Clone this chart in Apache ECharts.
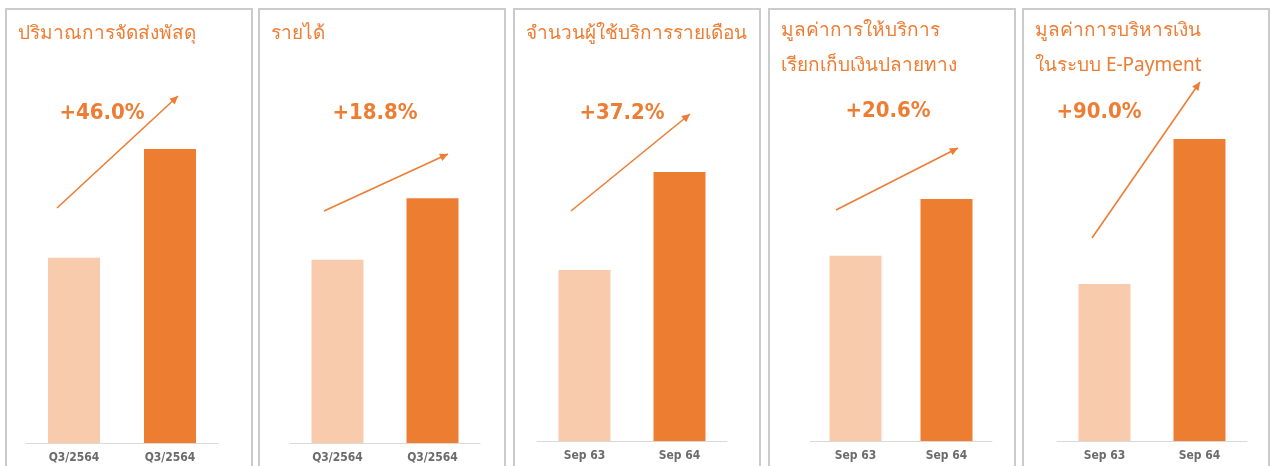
<!DOCTYPE html>
<html><head><meta charset="utf-8">
<script src="https://cdn.jsdelivr.net/npm/echarts@6/dist/echarts.min.js"></script>
<style>html,body{margin:0;padding:0;background:#fff}#c{width:1271px;height:466px}</style>
</head><body><div id="c"></div>
<script>
// Panel data (bar heights, relative scale 0-100)
const titles = ['ปริมาณการจัดส่งพัสดุ', 'รายได้', 'จำนวนผู้ใช้บริการรายเดือน', 'มูลค่าการให้บริการ\nเรียกเก็บเงินปลายทาง', 'มูลค่าการบริหารเงิน\nในระบบ E-Payment'];
const growth = ['+46.0%', '+18.8%', '+37.2%', '+20.6%', '+90.0%'];
const cats1 = ['Q3/2564', 'Q3/2564'];
const cats2 = ['Q3/2564', 'Q3/2564'];
const cats3 = ['Sep 63', 'Sep 64'];
const cats4 = ['Sep 63', 'Sep 64'];
const cats5 = ['Sep 63', 'Sep 64'];
const vals1 = [56.1, 89.1];
const vals2 = [55.5, 74.2];
const vals3 = [51.8, 81.5];
const vals4 = [56.1, 73.3];
const vals5 = [47.6, 91.5];

const cats = [cats1, cats2, cats3, cats4, cats5];
const vals = [vals1, vals2, vals3, vals4, vals5];

// layout
const panelLeft = [6, 259, 514, 769, 1023];
const panelW = 246;
const gridLR = [[26, 218], [290, 480], [537, 727], [810, 992], [1057, 1247]];
const gridBottomY = [443, 443, 441, 441, 441];
const titleTop = [16, 16, 16, 13, 13];
const pctPos = [[102, 113], [375, 113], [622, 113], [888, 111], [1099, 112]];
const arrows = [[57, 208, 178, 96], [324, 211, 448, 154], [571, 211, 690, 114], [836, 210, 958, 148], [1092, 238, 1200, 82]];
const light = '#F8CBAD', dark = '#ED7D31', orange = '#EE7D33';

const W = 1271, H = 466;
const chart = echarts.init(document.getElementById('c'), null, {renderer: 'canvas'});
const grid = [], xAxis = [], yAxis = [], series = [], title = [], graphic = [];
for (let i = 0; i < 5; i++) {
  const [l, r] = gridLR[i];
  grid.push({left: l, width: r - l, top: gridBottomY[i] - 330, height: 330, containLabel: false});
  xAxis.push({type: 'category', gridIndex: i, data: cats[i], boundaryGap: true,
    axisLine: {show: true, lineStyle: {color: '#d9d9d9', width: 1}},
    axisTick: {show: false},
    axisLabel: {color: '#6b6b6b', fontSize: 12, fontWeight: 'bold', fontFamily: 'DejaVu Sans Condensed, Liberation Sans Narrow, sans-serif', margin: 9}});
  yAxis.push({type: 'value', gridIndex: i, min: 0, max: 100, show: false});
  series.push({type: 'bar', xAxisIndex: i, yAxisIndex: i, barWidth: 52,
    data: vals[i].map((v, k) => ({value: v, itemStyle: {color: k === 0 ? light : dark}})),
    label: {show: false}});
  title.push({text: titles[i], left: panelLeft[i] + 12, top: titleTop[i], padding: 0,
    textStyle: {color: orange, fontSize: 19, fontWeight: 'normal', lineHeight: 35, fontFamily: 'Noto Sans, Tahoma, sans-serif'}});
  graphic.push({type: 'rect', shape: {x: panelLeft[i], y: 9, width: panelW, height: 470},
    style: {fill: 'none', stroke: '#cbcbcb', lineWidth: 2}, z: 0});
  graphic.push({type: 'text', x: pctPos[i][0], y: pctPos[i][1],
    style: {text: growth[i], fill: orange, font: 'bold 22px "DejaVu Sans Condensed", sans-serif', textAlign: 'center', textVerticalAlign: 'middle'}});
  const [x1, y1, x2, y2] = arrows[i];
  const ang = Math.atan2(y2 - y1, x2 - x1);
  const ah = 9, aw = 0.45;
  graphic.push({type: 'line', shape: {x1, y1, x2, y2}, style: {stroke: orange, lineWidth: 1.6}});
  graphic.push({type: 'polygon', shape: {points: [[x2, y2],
      [x2 - ah * Math.cos(ang - aw), y2 - ah * Math.sin(ang - aw)],
      [x2 - ah * Math.cos(ang + aw), y2 - ah * Math.sin(ang + aw)]]},
    style: {fill: orange}});
}
chart.setOption({animation: false, backgroundColor: '#fff', title, grid, xAxis, yAxis, series, graphic});
</script></body></html>
